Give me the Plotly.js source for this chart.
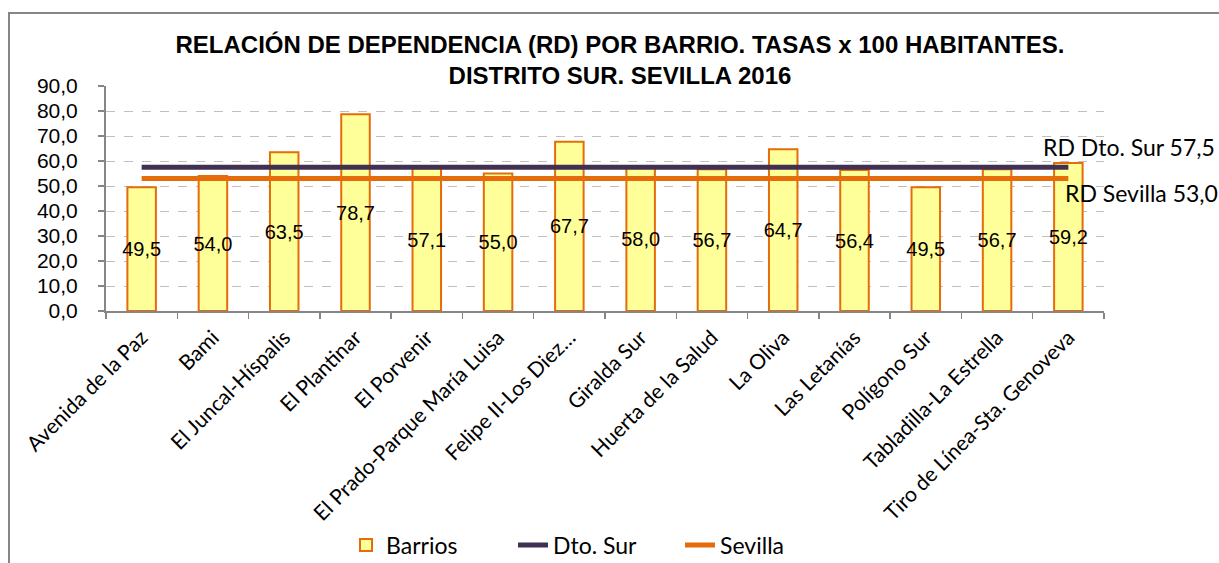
<!DOCTYPE html>
<html>
<head>
<meta charset="utf-8">
<script src="https://cdn.plot.ly/plotly-3.0.1.min.js"></script>
<style>html,body{margin:0;padding:0;background:#fff;}#chart{width:1219px;height:563px;}</style>
</head>
<body>
<div id="chart"></div>
<script>
const barrios = ["Avenida de la Paz", "Bami", "El Juncal-Híspalis", "El Plantinar", "El Porvenir",
  "El Prado-Parque María Luisa", "Felipe II-Los Diez…", "Giralda Sur", "Huerta de la Salud",
  "La Oliva", "Las Letanías", "Polígono Sur", "Tabladilla-La Estrella", "Tiro de Línea-Sta. Genoveva"];
const rdBarrios = [49.5, 54.0, 63.5, 78.7, 57.1, 55.0, 67.7, 58.0, 56.7, 64.7, 56.4, 49.5, 56.7, 59.2];
const rdDtoSur = [57.5, 57.5, 57.5, 57.5, 57.5, 57.5, 57.5, 57.5, 57.5, 57.5, 57.5, 57.5, 57.5, 57.5];
const rdSevilla = [53.0, 53.0, 53.0, 53.0, 53.0, 53.0, 53.0, 53.0, 53.0, 53.0, 53.0, 53.0, 53.0, 53.0];
const yTicks = [0, 10, 20, 30, 40, 50, 60, 70, 80, 90];
const fmt = v => v.toFixed(1).replace('.', ',');

const traces = [
  {
    type: 'bar', name: 'Barrios', x: barrios, y: rdBarrios,
    width: 0.4,
    marker: {color: '#FFFF99', line: {color: '#E46C0A', width: 2}},
    text: rdBarrios.map(fmt), textposition: 'inside', insidetextanchor: 'middle',
    textangle: 0, constraintext: 'none', cliponaxis: false,
    textfont: {family: 'Liberation Sans, Arial, sans-serif', size: 20, color: '#000'},
    hoverinfo: 'x+y'
  },
  {
    type: 'scatter', mode: 'lines', name: 'Dto. Sur', x: barrios, y: rdDtoSur,
    line: {color: '#403152', width: 5}
  },
  {
    type: 'scatter', mode: 'lines', name: 'Sevilla', x: barrios, y: rdSevilla,
    line: {color: '#E46C0A', width: 5}
  }
];

const layout = {
  width: 1219, height: 563,
  margin: {l: 106, r: 115, t: 86, b: 252, autoexpand: false},
  paper_bgcolor: '#fff', plot_bgcolor: '#fff',
  separators: ',.',
  showlegend: true,
  title: {
    text: 'RELACIÓN DE DEPENDENCIA (RD) POR BARRIO. TASAS x 100 HABITANTES.<br>DISTRITO SUR. SEVILLA 2016',
    font: {family: 'Liberation Sans, Arial, sans-serif', size: 24, color: '#000', weight: 'bold'},
    x: 0.5086, xref: 'container', xanchor: 'center',
    y: 0.906, yref: 'container', yanchor: 'top'
  },
  xaxis: {
    type: 'category', tickangle: -45,
    tickfont: {family: 'Lato, sans-serif', size: 21, color: '#000'},
    ticks: 'outside', tickson: 'boundaries', ticklen: 6, tickcolor: '#868686', tickwidth: 1.5,
    ticklabelstandoff: 4,
    showline: true, linecolor: '#868686', linewidth: 2,
    showgrid: false, zeroline: false, automargin: false
  },
  yaxis: {
    range: [0, 90], tickvals: yTicks, ticktext: yTicks.map(fmt),
    tickfont: {family: 'Liberation Sans, Arial, sans-serif', size: 21, color: '#000'},
    ticks: 'outside', ticklen: 6, tickcolor: '#868686', tickwidth: 1.5,
    ticklabelstandoff: 16,
    showline: true, linecolor: '#868686', linewidth: 2,
    showgrid: true, gridcolor: '#BFBFBF', gridwidth: 1, griddash: 'dash',
    zeroline: false, automargin: false
  },
  legend: {
    orientation: 'h', x: 0.2405, xanchor: 'left', y: -1.04, yanchor: 'middle',
    font: {family: 'Lato, sans-serif', size: 23, color: '#000'},
    entrywidth: 122, tracegroupgap: 0
  },
  annotations: [
    {text: 'RD Dto. Sur ' + fmt(rdDtoSur[0]), xref: 'paper', yref: 'paper', x: 1.113, y: 0.729,
     xanchor: 'right', yanchor: 'middle', showarrow: false,
     font: {family: 'Lato, sans-serif', size: 23, color: '#000'}},
    {text: 'RD Sevilla ' + fmt(rdSevilla[0]), xref: 'paper', yref: 'paper', x: 1.116, y: 0.524,
     xanchor: 'right', yanchor: 'middle', showarrow: false,
     font: {family: 'Lato, sans-serif', size: 23, color: '#000'}}
  ],
  shapes: [
    {type: 'rect', xref: 'paper', yref: 'paper', x0: -0.0972, x1: 1.2, y0: 1.3244, y1: -1.3,
     line: {color: '#868686', width: 2}, fillcolor: 'rgba(0,0,0,0)', layer: 'below'}
  ]
};

Plotly.newPlot('chart', traces, layout, {displayModeBar: false, staticPlot: true});
</script>
</body>
</html>
